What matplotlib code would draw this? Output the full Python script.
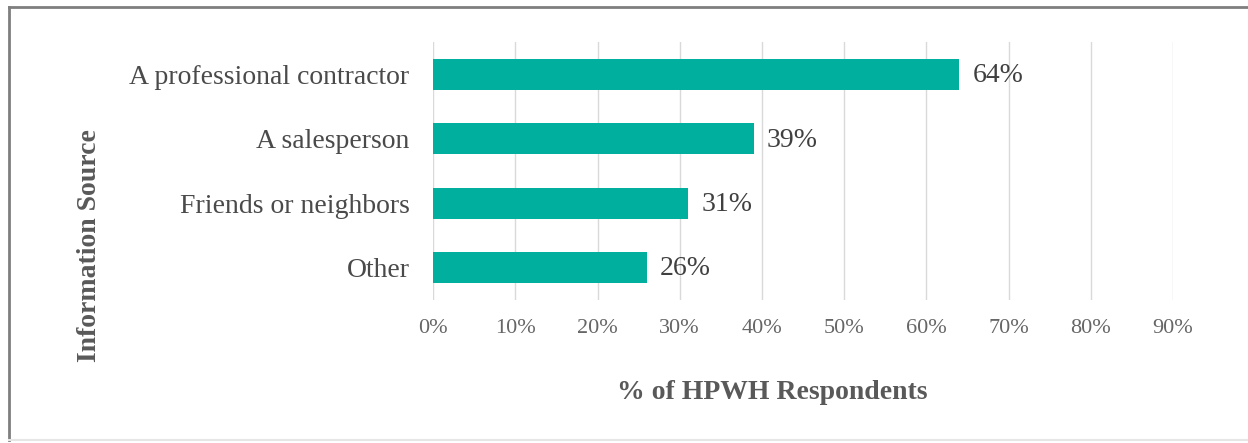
import matplotlib
matplotlib.use('Agg')
import matplotlib.pyplot as plt
from matplotlib.lines import Line2D

# Data
sources = ['A professional contractor', 'A salesperson', 'Friends or neighbors', 'Other']
shares = [0.64, 0.39, 0.31, 0.26]
tick_vals = [0.0, 0.1, 0.2, 0.3, 0.4, 0.5, 0.6, 0.7, 0.8, 0.9]

TEAL = '#00AF9E'
GRID = '#D9D9D9'
TICK_GRAY = '#666666'

plt.rcParams['font.family'] = ['Liberation Serif', 'DejaVu Serif']

fig = plt.figure(figsize=(12.48, 4.43), dpi=100)
ax = fig.add_axes([0.347, 0.323, 0.593, 0.582])

y = list(range(len(sources)))
ax.barh(y, shares, height=0.48, color=TEAL, zorder=3)
ax.set_ylim(len(sources) - 0.5, -0.5)
ax.set_xlim(0, 0.9)

for yi, v in zip(y, shares):
    ax.text(v + 0.016, yi + 0.02, f'{round(v * 100)}%', va='center', ha='left',
            fontsize=20, color='#404040')

ax.set_xticks(tick_vals)
ax.set_xticklabels([f'{round(t * 100)}%' for t in tick_vals], fontsize=16, color=TICK_GRAY)
ax.set_yticks(y)
ax.set_yticklabels(sources, fontsize=20, color='#4A4A4A')
ax.tick_params(axis='both', length=0)
ax.tick_params(axis='x', pad=14)
ax.tick_params(axis='y', pad=17)
ax.xaxis.grid(True, color=GRID, linewidth=1, zorder=0)
for s in ax.spines.values():
    s.set_visible(False)

fig.text(0.619, 0.113, '% of HPWH Respondents', ha='center', va='center',
         fontsize=20, fontweight='bold', color='#595959')
fig.text(0.072, 0.445, 'Information Source', ha='center', va='center',
         rotation=90, fontsize=20, fontweight='bold', color='#595959')

# outer frame
fig.add_artist(Line2D([0.007, 1.0], [0.984, 0.984], transform=fig.transFigure,
                      color='#7F7F7F', linewidth=2))
fig.add_artist(Line2D([0.007, 0.007], [0.006, 0.984], transform=fig.transFigure,
                      color='#7F7F7F', linewidth=2))
fig.add_artist(Line2D([0.007, 1.0], [0.006, 0.006], transform=fig.transFigure,
                      color='#E6E6E6', linewidth=1.5))

fig.savefig('out.png', dpi=100)
